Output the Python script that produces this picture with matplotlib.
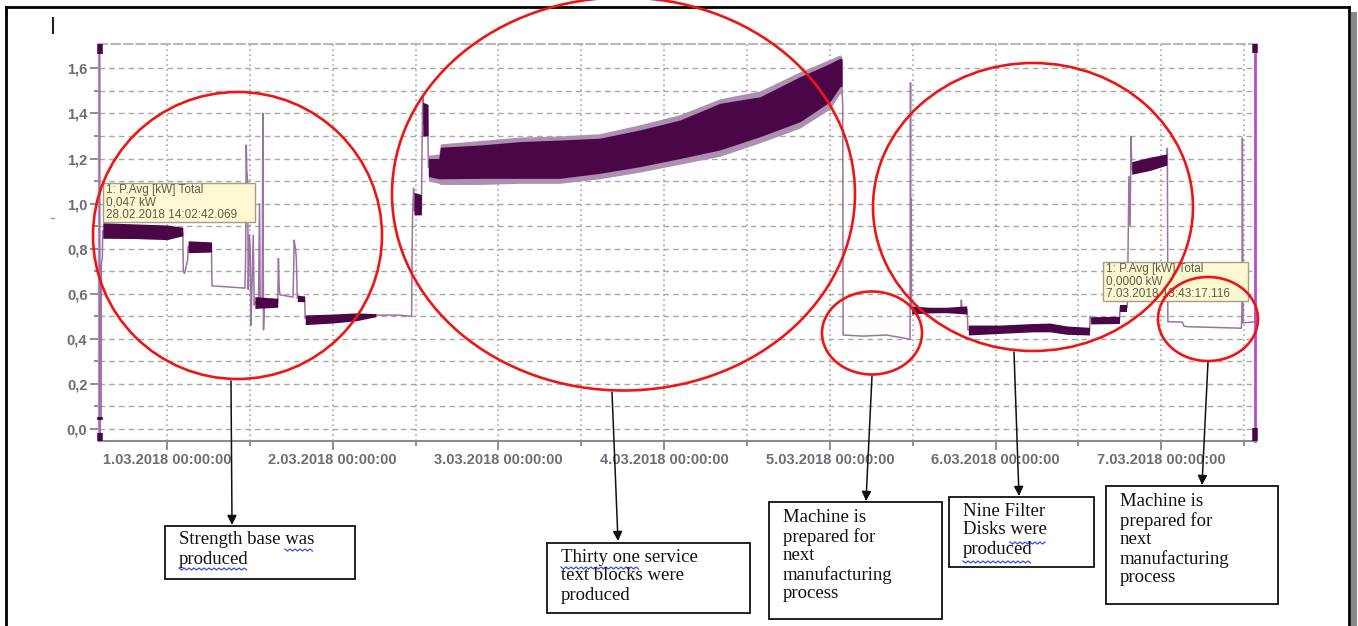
import numpy as np
import matplotlib.pyplot as plt
from matplotlib.patches import Ellipse, Rectangle

# time in days counted from 1.03.2018 00:00:00, power in kW
day_ticks = [0, 1, 2, 3, 4, 5, 6]
day_labels = ['1.03.2018 00:00:00', '2.03.2018 00:00:00', '3.03.2018 00:00:00',
              '4.03.2018 00:00:00', '5.03.2018 00:00:00', '6.03.2018 00:00:00',
              '7.03.2018 00:00:00']
half_day_ticks = [0.5, 1.5, 2.5, 3.5, 4.5, 5.5, 6.5]
kw_ticks = [0.0, 0.2, 0.4, 0.6, 0.8, 1.0, 1.2, 1.4, 1.6]
kw_labels = ['0,0', '0,2', '0,4', '0,6', '0,8', '1,0', '1,2', '1,4', '1,6']
kw_minor = [0.1, 0.3, 0.5, 0.7, 0.9, 1.1, 1.3, 1.5]

# thin trace  (P Avg [kW] Total)
trace_t = [-0.406, -0.406, -0.404, -0.398, -0.397, -0.391, -0.388,
           0.095, 0.098, 0.105, 0.115, 0.124, 0.127, 0.268, 0.271, 0.470,
           0.474, 0.478, 0.481, 0.486, 0.490, 0.496, 0.502, 0.506, 0.512, 0.520,
           0.526, 0.530, 0.552, 0.558, 0.562, 0.574, 0.578, 0.582, 0.587, 0.668,
           0.672, 0.677, 0.682, 0.760, 0.764, 0.767, 0.775, 0.780, 0.786, 0.830,
           0.834, 1.26, 1.40, 1.476, 1.479, 1.482, 1.488, 1.492, 1.535, 1.539,
           1.543, 1.548, 1.572, 1.577, 1.64, 1.65, 2.13, 2.61, 3.096, 3.579,
           4.001, 4.070, 4.078, 4.080, 4.20, 4.34, 4.42, 4.484, 4.487, 4.489,
           4.491, 4.493, 4.495, 4.79, 4.794, 4.798, 4.829, 4.833, 5.567, 5.572,
           5.575, 5.748, 5.752, 5.795, 5.798, 5.805, 5.812, 5.818, 5.822, 6.034,
           6.037, 6.040, 6.128, 6.136, 6.154, 6.484, 6.487, 6.490, 6.494, 6.556]
trace_v = [1.70, -0.03, 0.047, 0.047, 0.73, 0.76, 0.88,
           0.87, 0.70, 0.69, 0.72, 0.75, 0.81, 0.81, 0.635, 0.625,
           0.75, 1.26, 1.15, 1.10, 0.62, 0.86, 0.80, 0.46, 0.62, 0.86,
           0.55, 0.56, 0.57, 1.00, 0.56, 0.55, 1.40, 0.44, 0.56, 0.56,
           0.757, 0.62, 0.595, 0.585, 0.70, 0.838, 0.80, 0.76, 0.58, 0.578,
           0.49, 0.505, 0.505, 0.50, 0.80, 0.95, 1.068, 0.97, 0.98, 1.25,
           1.482, 1.35, 1.42, 1.16, 1.15, 1.18, 1.19, 1.21, 1.28, 1.38,
           1.54, 1.58, 1.43, 0.417, 0.412, 0.417, 0.407, 0.398, 1.536, 0.55,
           1.02, 0.55, 0.53, 0.53, 0.572, 0.53, 0.53, 0.44, 0.435, 0.50,
           0.48, 0.482, 0.54, 0.54, 0.67, 1.12, 0.90, 1.297, 1.15, 1.195,
           1.245, 0.476, 0.474, 0.457, 0.454, 0.447, 0.52, 1.29, 0.471, 0.475]

# dense (noisy) parts of the trace: time, lower and upper envelope
bands = [
    ([-0.388, -0.2, 0.0, 0.095], [0.846, 0.845, 0.84, 0.857], [0.915, 0.91, 0.905, 0.895]),
    ([0.127, 0.268], [0.782, 0.785], [0.835, 0.83]),
    ([0.530, 0.668], [0.535, 0.54], [0.587, 0.58]),
    ([0.786, 0.830], [0.565, 0.565], [0.594, 0.59]),
    ([0.834, 1.0, 1.14, 1.26], [0.463, 0.47, 0.48, 0.498], [0.506, 0.51, 0.515, 0.512]),
    ([1.49, 1.535], [0.95, 0.95], [1.05, 1.04]),
    ([1.543, 1.575], [1.30, 1.30], [1.45, 1.44]),
    ([4.494, 4.60, 4.70, 4.826], [0.51, 0.515, 0.516, 0.51], [0.546, 0.54, 0.54, 0.546]),
    ([4.836, 5.027, 5.228, 5.329, 5.43, 5.567],
     [0.417, 0.424, 0.431, 0.431, 0.420, 0.417], [0.461, 0.461, 0.468, 0.47, 0.457, 0.451]),
    ([5.574, 5.748], [0.466, 0.468], [0.498, 0.50]),
    ([5.752, 5.795], [0.52, 0.52], [0.55, 0.55]),
    ([5.822, 5.932, 6.034], [1.13, 1.147, 1.171], [1.186, 1.206, 1.22]),
]

# long production run 2.03 - 5.03
mid_t = [1.577, 1.64, 1.65, 1.89, 2.13, 2.37, 2.61, 2.855, 3.096, 3.337, 3.579, 3.82,
         4.001, 4.062, 4.074]
mid_lo = [1.12, 1.11, 1.11, 1.112, 1.112, 1.112, 1.134, 1.164, 1.20, 1.238, 1.297, 1.363,
          1.452, 1.519, 1.52]
mid_hi = [1.20, 1.20, 1.25, 1.26, 1.275, 1.282, 1.29, 1.327, 1.371, 1.445, 1.474, 1.563,
          1.622, 1.645, 1.64]
mid_spike_lo = [1.10, 1.09, 1.085, 1.085, 1.09, 1.09, 1.11, 1.14, 1.175, 1.21, 1.27, 1.335,
                1.42, 1.49, 1.47]
mid_spike_hi = [1.215, 1.22, 1.265, 1.28, 1.295, 1.30, 1.31, 1.35, 1.395, 1.465, 1.50, 1.585,
                1.64, 1.66, 1.65]

# cursor marks at both ends of the view
cursor_t = [-0.407, -0.407, -0.407, 6.563, 6.563]
cursor_lo = [1.665, 0.040, -0.052, 1.667, -0.052]
cursor_hi = [1.708, 0.055, -0.020, 1.708, 0.004]

# tooltips of the logger software
tips = [(103, 183, 152, 39, ['1: P.Avg [kW] Total', '0,047 kW', '28.02.2018 14:02:42.069']),
        (1103, 262, 145, 39, ['1: P.Avg [kW] Total', '0,0000 kW', '7.03.2018 13:43:17.116'])]

# red circles (center x, center y, width, height) in pixels
circles = [(237.5, 235.5, 289, 287), (623.5, 194, 463, 393), (872, 333, 100, 83),
           (1033, 207, 320, 288), (1208, 319, 100, 84)]

# comment boxes: x, y, w, h, text lines, arrow start, arrow tip
notes = [(165, 526, 190, 53, ['Strength base was', 'produced'], (231, 381), (232, 525)),
         (547, 543, 203, 70, ['Thirty one service', 'text blocks were', 'produced'], (612, 392), (618, 541)),
         (769, 502, 173, 117, ['Machine is', 'prepared for', 'next', 'manufacturing', 'process'], (872, 376), (866, 501)),
         (949, 497, 145, 70, ['Nine Filter', 'Disks were', 'produced'], (1014, 352), (1019, 496)),
         (1106, 486, 172, 118, ['Machine is', 'prepared for', 'next', 'manufacturing', 'process'], (1208, 362), (1202, 485))]

W, H = 1358, 626
dark = '#4a0646'
light = '#9c72a3'

fig = plt.figure(figsize=(W / 100, H / 100), dpi=100)
ax = fig.add_axes([99.3 / W, 1 - 440.7 / H, (1255 - 99.3) / W, (440.7 - 44) / H])

ax.plot(trace_t, trace_v, color=light, lw=1.1, zorder=3)
ax.fill_between(mid_t, mid_spike_lo, mid_spike_hi, color='#ad8fb2', lw=0, zorder=3)
ax.fill_between(mid_t, mid_lo, mid_hi, color=dark, lw=0, zorder=4)
for bt, blo, bhi in bands:
    ax.fill_between(bt, blo, bhi, color=dark, lw=0, zorder=4)
ax.vlines(cursor_t, cursor_lo, cursor_hi, color=dark, lw=4, zorder=5, clip_on=False)

ax.set_xlim(-0.409, 6.566)
ax.set_ylim(-0.052, 1.708)
ax.set_xticks(day_ticks)
ax.set_xticklabels(day_labels)
ax.set_xticks(half_day_ticks, minor=True)
ax.set_yticks(kw_ticks)
ax.set_yticklabels(kw_labels)
ax.set_yticks(kw_minor, minor=True)
ax.xaxis.grid(True, which='both', linestyle=(0, (1, 2)), color='#a8a8a8', lw=1.2)
ax.yaxis.grid(True, which='both', linestyle=(0, (4, 3)), color='#a8a8a8', lw=1.0)
ax.set_axisbelow(True)
ax.tick_params(which='major', length=6.5, width=1.2, color='#7a7a7a', pad=2,
               labelsize=10.5, labelcolor='#6f6a7a')
ax.tick_params(which='minor', length=3.5, width=1.2, color='#7a7a7a')
for lab in ax.get_xticklabels() + ax.get_yticklabels():
    lab.set_fontfamily('Liberation Sans')
    lab.set_fontweight('bold')
ax.spines['left'].set_color('#b48cbf')
ax.spines['left'].set_linewidth(1.6)
ax.spines['right'].set_color('#b84cc8')
ax.spines['right'].set_linewidth(2)
ax.spines['bottom'].set_color('#8c8c8c')
ax.spines['bottom'].set_linewidth(1.5)
ax.spines['top'].set_color('#b8b8b8')
ax.spines['top'].set_linestyle((0, (4, 2)))
ax.spines['top'].set_linewidth(1.5)

# overlay in pixel coordinates for the annotations
ov = fig.add_axes([0, 0, 1, 1])
ov.set_xlim(0, W)
ov.set_ylim(H, 0)
ov.axis('off')

# page frame with shadow
ov.plot([6, 1349], [7, 7], color='black', lw=2)
ov.plot([6, 6], [7, H], color='black', lw=2)
ov.plot([1349, 1349], [7, H], color='black', lw=2)
ov.add_patch(Rectangle((1350.5, 12), 6, H, color='#8a8a8a', lw=0))
ov.plot([53, 53], [18, 33], color='#222222', lw=1.5)
ov.plot([51, 54], [218, 218], color='#999999', lw=1)

for x, y, w, h, lines in tips:
    ov.add_patch(Rectangle((x, y), w, h, facecolor='#fcf8d2', edgecolor='#a89c88', lw=1, zorder=5))
    for i, s in enumerate(lines):
        ov.text(x + 3, y + 7 + i * 12.5, s, fontsize=8.5, family='Liberation Sans',
                color='#5e5c4c', va='center', zorder=6)

for cx, cy, w, h in circles:
    ov.add_patch(Ellipse((cx, cy), w, h, fill=False, ec='#ee1515', lw=1.9, zorder=8))

for x, y, w, h, lines, a0, a1 in notes:
    ov.add_patch(Rectangle((x, y), w, h, fill=False, ec='#111111', lw=1.3))
    ty0 = y + (14 if len(lines) < 4 else 16)
    for i, s in enumerate(lines):
        ov.text(x + 14, ty0 + i * 19, s, fontsize=13.5, family='Liberation Serif',
                color='#111111', va='center')
    ov.annotate('', xy=a1, xytext=a0,
                arrowprops=dict(arrowstyle='-|>', color='#111111', lw=1.1, mutation_scale=14,
                                shrinkA=0, shrinkB=0))

# spell-check squiggles under some words
squiggles = [(285, 314, 550), (179, 249, 569), (561, 640, 568), (1010, 1046, 543), (963, 1033, 562)]
for x0, x1, y in squiggles:
    xs = np.arange(x0, x1, 2.5)
    ys = y + np.where(np.arange(len(xs)) % 2 == 0, -1.0, 1.0)
    ov.plot(xs, ys, color='#3a50e0', lw=0.9)

fig.savefig('out.png', dpi=100)
